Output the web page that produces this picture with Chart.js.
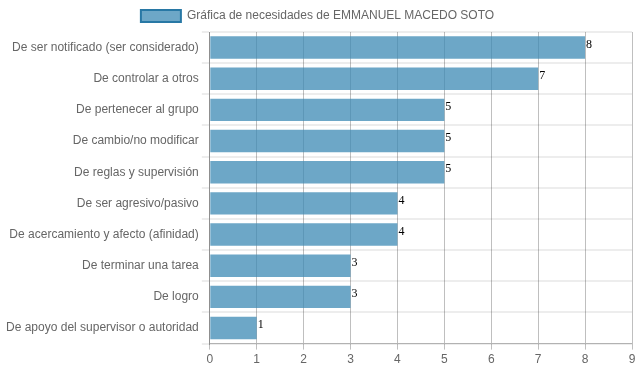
<!DOCTYPE html>
<html>
<head>
<meta charset="utf-8">
<script src="https://cdn.jsdelivr.net/npm/chart.js@4"></script>
<style>
  html, body { margin: 0; padding: 0; background: #fff; }
  #wrap { width: 639px; height: 372px; }
</style>
</head>
<body>
<div id="wrap"><canvas id="chart"></canvas></div>
<script>
"use strict";

/* ─── DATA ─── */
const categories = [
  "De ser notificado (ser considerado)",
  "De controlar a otros",
  "De pertenecer al grupo",
  "De cambio/no modificar",
  "De reglas y supervisión",
  "De ser agresivo/pasivo",
  "De acercamiento y afecto (afinidad)",
  "De terminar una tarea",
  "De logro",
  "De apoyo del supervisor o autoridad",
];
const values = [8, 7, 5, 5, 5, 4, 4, 3, 3, 1];
const seriesLabel = "Gráfica de necesidades de EMMANUEL MACEDO SOTO";
const xMax = 9;

Chart.defaults.font.family = "'Liberation Sans', Arial, sans-serif";
Chart.defaults.font.size = 12;
Chart.defaults.color = "#666";

// value labels at bar ends
const endLabels = {
  id: "endLabels",
  afterDatasetsDraw(chart) {
    const ctx = chart.ctx;
    const meta = chart.getDatasetMeta(0);
    ctx.save();
    ctx.font = "12px 'Liberation Serif', 'Times New Roman', serif";
    ctx.fillStyle = "#000";
    ctx.textBaseline = "middle";
    meta.data.forEach((bar, i) => {
      ctx.fillText(String(values[i]), bar.x + 1, bar.y - 3);
    });
    ctx.restore();
  }
};

new Chart(document.getElementById("chart"), {
  type: "bar",
  data: {
    labels: categories,
    datasets: [{
      label: seriesLabel,
      data: values,
      backgroundColor: "rgba(60,137,180,0.75)",
      borderColor: "rgba(40,120,165,1)",
      borderWidth: 0,
      categoryPercentage: 1,
      barPercentage: 0.72,
    }]
  },
  options: {
    indexAxis: "y",
    responsive: true, maintainAspectRatio: false,
    animation: false,
    layout: { padding: { left: 3, right: 7, top: 0, bottom: 2 } },
    plugins: {
      tooltip: { enabled: false },
      legend: {
        display: true,
        labels: {
          boxWidth: 40, boxHeight: 12,
          color: "#666",
          generateLabels: chart => [{
            text: seriesLabel,
            fillStyle: "rgba(60,137,180,0.75)",
            strokeStyle: "rgba(40,120,165,1)",
            lineWidth: 2,
            fontColor: "#666",
            datasetIndex: 0,
          }]
        }
      }
    },
    scales: {
      x: {
        min: 0, max: xMax,
        ticks: { stepSize: 1, color: "#666" },
        grid: { color: "rgba(0,0,0,0.25)", tickLength: 6 },
        border: { color: "rgba(0,0,0,0.25)" },
      },
      y: {
        ticks: { color: "#666" },
        grid: { color: "rgba(0,0,0,0.07)", lineWidth: 2, offset: true, tickLength: 8 },
        border: { color: "rgba(0,0,0,0.25)" },
      }
    }
  },
  plugins: [endLabels]
});
</script>
</body>
</html>
